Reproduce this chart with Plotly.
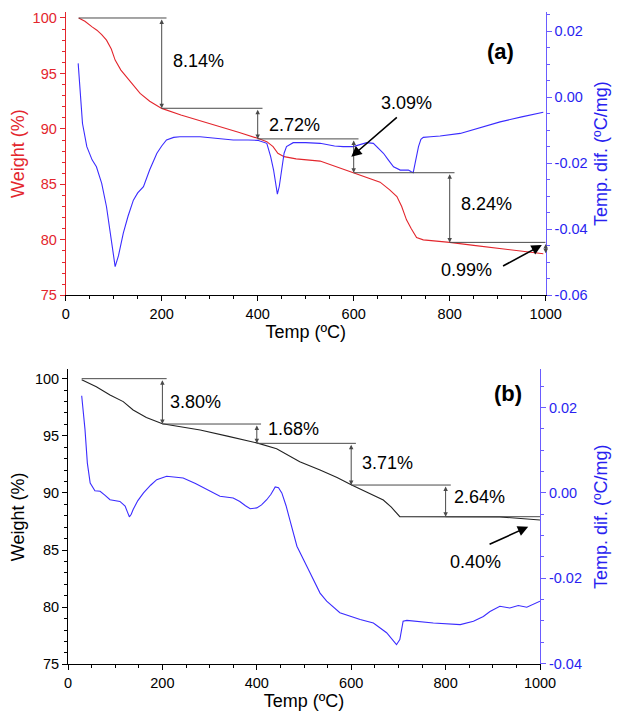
import plotly.graph_objects as go

# ---------------- data: panel (a) ----------------
top_tg_t = [27, 40, 55, 65, 75, 85, 95, 103, 115, 127, 140, 155, 175, 200, 240, 280, 320, 360, 400,
            419, 432, 442, 455, 480, 530, 570, 600, 630, 655, 675, 690, 700, 710, 720, 731, 745, 770,
            800, 850, 905, 950, 995]
top_tg_w = [100.0, 99.7, 99.2, 98.9, 98.5, 98.0, 97.2, 96.2, 95.3, 94.7, 94.0, 93.2, 92.5, 91.85,
            91.25, 90.75, 90.2, 89.7, 89.15, 88.85, 88.4, 87.8, 87.5, 87.3, 87.1, 86.5, 86.05, 85.6,
            85.2, 84.5, 83.9, 83.0, 81.8, 81.0, 80.2, 80.0, 79.9, 79.77, 79.5, 79.2, 79.0, 78.75]

top_dta_t = [26, 29, 35, 44, 55, 64, 75, 85, 95, 103, 110, 120, 130, 141, 150, 162, 175, 190, 200,
             210, 225, 238, 280, 320, 349, 380, 400, 419, 427, 433, 438, 441, 445, 450, 455, 460, 474,
             500, 530, 560, 578, 599, 615, 627, 641, 650, 662, 672, 683, 697, 705, 714, 720, 724, 728,
             735, 740, 745, 760, 780, 822, 860, 905, 950, 995]
top_dta_v = [0.0102, 0.0031, -0.008, -0.0150, -0.019, -0.0211, -0.0261, -0.0332, -0.044, -0.0513,
             -0.048, -0.0412, -0.036, -0.0312, -0.029, -0.0271, -0.022, -0.0170, -0.0148, -0.0130,
             -0.0122, -0.0120, -0.0120, -0.0125, -0.0130, -0.0130, -0.0131, -0.0140, -0.018, -0.0220,
             -0.027, -0.0294, -0.027, -0.0211, -0.017, -0.0150, -0.0138, -0.0138, -0.0140, -0.0148,
             -0.0150, -0.0150, -0.0143, -0.0138, -0.0140, -0.0152, -0.0170, -0.019, -0.0211, -0.0221,
             -0.0221, -0.0221, -0.0226, -0.0229, -0.020, -0.0150, -0.0128, -0.0122, -0.0120, -0.0118,
             -0.0110, -0.0093, -0.0075, -0.0060, -0.0046]

top_hline_y = [100.0, 91.86, 89.1, 86.05, 79.77]
top_hline_x0 = [27, 200, 400, 600, 800]
top_hline_x1 = [210, 410, 610, 810, 1000]
top_step_t = [200, 400, 600, 800, 1000]
top_step_hi = [100.0, 91.86, 89.1, 86.05, 79.77]
top_step_lo = [91.86, 89.1, 86.05, 79.77, 78.78]
top_labels = ["8.14%", "2.72%", "3.09%", "8.24%", "0.99%"]
top_label_x = [276, 477, 709, 877, 835]
top_label_y = [96.1, 90.35, 92.36, 83.23, 77.28]
top_ptr_tail = [(693, 91.16), (908, 77.57)]
top_ptr_tip = [(595, 87.49), (992, 79.53)]

# ---------------- data: panel (b) ----------------
bot_tg_t = [29, 60, 89, 117, 138, 166, 200, 240, 280, 340, 400, 442, 491, 534, 570, 601, 640, 668,
            685, 695, 703, 720, 800, 915, 1000]
bot_tg_w = [99.9, 99.3, 98.57, 97.99, 97.26, 96.6, 96.05, 95.8, 95.5, 94.95, 94.38, 93.87, 92.73,
            92.0, 91.35, 90.69, 89.9, 89.38, 88.75, 88.3, 87.92, 87.92, 87.92, 87.9, 87.63]

bot_dta_t = [29, 33, 36, 41, 47, 57, 68, 78, 89, 110, 121, 126, 130, 134, 138, 148, 160, 175, 188,
             209, 244, 270, 294, 322, 350, 364, 376, 386, 400, 410, 421, 430, 439, 446, 453, 462, 470,
             485, 513, 534, 548, 576, 619, 647, 675, 688, 696, 703, 707, 710, 718, 774, 831, 859, 880,
             894, 915, 936, 954, 972, 1000]
bot_dta_v = [0.0228, 0.019, 0.0149, 0.0070, 0.0023, 0.0005, 0.0004, -0.0005, -0.0016, -0.0020,
             -0.0031, -0.0045, -0.0056, -0.0050, -0.0039, -0.0018, 0.0000, 0.0018, 0.0031, 0.0039,
             0.0035, 0.0022, 0.0008, -0.0008, -0.0012, -0.0020, -0.0030, -0.0037, -0.0035, -0.0028,
             -0.0016, -0.0003, 0.0014, 0.0012, 0.0000, -0.0030, -0.0063, -0.0125, -0.0188, -0.0235,
             -0.0254, -0.0281, -0.0297, -0.0305, -0.0328, -0.0345, -0.0356, -0.0344, -0.0320, -0.0301,
             -0.0299, -0.0305, -0.0309, -0.0301, -0.0290, -0.0278, -0.0266, -0.0270, -0.0264, -0.0268,
             -0.0254]

bot_hline_y = [100.0, 96.03, 94.34, 90.69, 87.92]
bot_hline_x0 = [29, 200, 400, 600, 800]
bot_hline_x1 = [209, 409, 610, 811, 1000]
bot_step_t = [200, 400, 600, 800, 1000]
bot_step_hi = [100.0, 96.03, 94.34, 90.69, 87.92]
bot_step_lo = [96.03, 94.34, 90.69, 87.92, 87.63]
bot_labels = ["3.80%", "1.68%", "3.71%", "2.64%", "0.40%"]
bot_label_x = [271, 478, 676, 871, 864]
bot_label_y = [97.99, 95.57, 92.59, 89.64, 83.98]
bot_ptr_tail = [(890, 85.44)]
bot_ptr_tip = [(975, 87.04)]

x_ticks = [0, 200, 400, 600, 800, 1000]
w_ticks = [75, 80, 85, 90, 95, 100]
dta_ticks_a = [-0.06, -0.04, -0.02, 0.00, 0.02]
dta_text_a = ["-0.06", "-0.04", "-0.02", "0.00", "0.02"]
dta_ticks_b = [-0.04, -0.02, 0.00, 0.02]
dta_text_b = ["-0.04", "-0.02", "0.00", "0.02"]

# ---------------- styling ----------------
FONT = "Arial, Liberation Sans, sans-serif"
RED = "#e3262d"
BLUE_LINE = "#3b2cff"
BLUE_TXT = "#2a1ff0"
BLUE_AX = "#6a5cff"
GRAY = "#4a4a4a"
OFF = 8                     # default page body margin
W, H = 620 - OFF, 716 - OFF

def px_x(p):
    return (p - OFF) / W

def px_y(p):
    return 1 - (p - OFF) / H

fig = go.Figure()
fig.add_trace(go.Scatter(x=top_tg_t, y=top_tg_w, mode="lines", line=dict(color=RED, width=1.1),
                         xaxis="x", yaxis="y", showlegend=False))
fig.add_trace(go.Scatter(x=top_dta_t, y=top_dta_v, mode="lines", line=dict(color=BLUE_LINE, width=1.1),
                         xaxis="x", yaxis="y2", showlegend=False))
fig.add_trace(go.Scatter(x=bot_tg_t, y=bot_tg_w, mode="lines", line=dict(color="#222222", width=1.1),
                         xaxis="x2", yaxis="y3", showlegend=False))
fig.add_trace(go.Scatter(x=bot_dta_t, y=bot_dta_v, mode="lines", line=dict(color=BLUE_LINE, width=1.1),
                         xaxis="x2", yaxis="y4", showlegend=False))

tickfont = dict(family=FONT, size=14.5)
titlefont = dict(family=FONT, size=18)

def xaxis(domain, anchor):
    return dict(domain=domain, anchor=anchor, range=[0, 1000], tickvals=x_ticks, automargin=False,
                ticks="outside", ticklen=5, tickwidth=1, tickcolor="black",
                minor=dict(dtick=50, ticks="outside", ticklen=3, tickcolor="black"),
                showline=True, linecolor="black", linewidth=1, showgrid=False, zeroline=False,
                tickfont=dict(color="black", **tickfont),
                title=dict(text="Temp (ºC)", font=dict(color="black", **titlefont), standoff=4))

def yleft(domain, anchor, rng, color):
    return dict(domain=domain, anchor=anchor, range=rng, tickvals=w_ticks, automargin=False,
                ticks="outside", ticklen=5, tickcolor=color,
                minor=dict(dtick=1, ticks="outside", ticklen=3, tickcolor=color),
                showline=True, linecolor=color, linewidth=1, showgrid=False, zeroline=False,
                tickfont=dict(color=color, **tickfont),
                title=dict(text="Weight (%)", font=dict(color=color, **titlefont), standoff=6))

def yright(over, anchor, rng, tv, tt, standoff):
    return dict(overlaying=over, anchor=anchor, side="right", range=rng, tickvals=tv, ticktext=tt,
                automargin=False, ticks="outside", ticklen=5, tickcolor=BLUE_AX,
                minor=dict(dtick=0.005, ticks="outside", ticklen=3, tickcolor=BLUE_AX),
                showline=True, linecolor=BLUE_AX, linewidth=1, showgrid=False, zeroline=False,
                tickfont=dict(color=BLUE_TXT, **tickfont),
                title=dict(text="Temp. dif. (ºC/mg)", font=dict(color=BLUE_TXT, **titlefont),
                           standoff=standoff))

shapes = []
annotations = []

def add_panel(xr, yr, hy, hx0, hx1, st, shi, slo, labels, lx, ly, tails, tips, tag, tagxy):
    for y, a, b in zip(hy, hx0, hx1):
        shapes.append(dict(type="line", xref=xr, yref=yr, x0=a, x1=b, y0=y, y1=y,
                           line=dict(color=GRAY, width=1)))
    for t, a, b in zip(st, shi, slo):
        annotations.append(dict(xref=xr, yref=yr, axref=xr, ayref=yr, x=t, y=b, ax=t, ay=a,
                                text="", showarrow=True, arrowside="end+start", arrowhead=2,
                                startarrowhead=2, arrowsize=0.9, startarrowsize=0.9, arrowwidth=1,
                                arrowcolor=GRAY))
    for s, x, y in zip(labels, lx, ly):
        annotations.append(dict(xref=xr, yref=yr, x=x, y=y, text=s, showarrow=False,
                                font=dict(family=FONT, size=18, color="black")))
    for (tx, ty), (hx, hy2) in zip(tails, tips):
        annotations.append(dict(xref=xr, yref=yr, axref=xr, ayref=yr, x=hx, y=hy2, ax=tx, ay=ty,
                                text="", showarrow=True, arrowhead=2, arrowsize=1.3, arrowwidth=1.6,
                                arrowcolor="black"))
    annotations.append(dict(xref=xr, yref=yr, x=tagxy[0], y=tagxy[1], text="<b>" + tag + "</b>",
                            showarrow=False, font=dict(family=FONT, size=22, color="black")))

add_panel("x", "y", top_hline_y, top_hline_x0, top_hline_x1, top_step_t, top_step_hi, top_step_lo,
          top_labels, top_label_x, top_label_y, top_ptr_tail, top_ptr_tip, "(a)", (906, 96.96))
add_panel("x2", "y3", bot_hline_y, bot_hline_x0, bot_hline_x1, bot_step_t, bot_step_hi, bot_step_lo,
          bot_labels, bot_label_x, bot_label_y, bot_ptr_tail, bot_ptr_tip, "(b)", (932, 98.72))

fig.update_layout(
    width=W, height=H, margin=dict(l=0, r=0, t=0, b=0, autoexpand=False),
    paper_bgcolor="white", plot_bgcolor="white",
    font=dict(family=FONT),
    xaxis=xaxis([px_x(65.7), px_x(545.7)], "y"),
    yaxis=yleft([px_y(295.3), px_y(12)], "x", [75, 100.54], RED),
    yaxis2=yright("y", "x", [-0.06, 0.02575], dta_ticks_a, dta_text_a, 7),
    xaxis2=xaxis([px_x(68), px_x(540)], "y3"),
    yaxis3=yleft([px_y(664.3), px_y(369.3)], "x2", [75, 100.82], "black"),
    yaxis4=yright("y3", "x2", [-0.0402, 0.029], dta_ticks_b, dta_text_b, 13),
    shapes=shapes, annotations=annotations,
)

fig.write_html("out.html")
